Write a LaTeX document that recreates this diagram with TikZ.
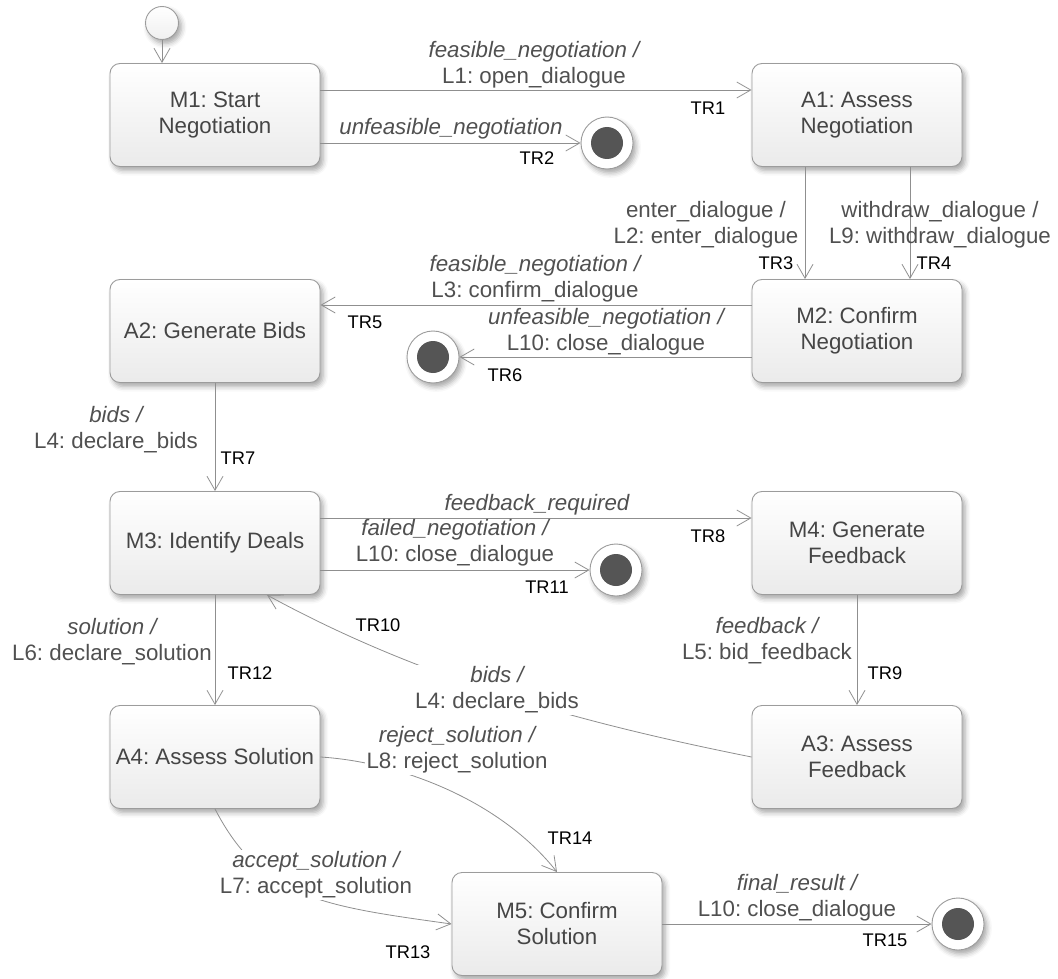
\documentclass[tikz,border=0pt]{standalone}
\usepackage{fontspec}
\setmainfont{Liberation Sans}
\usetikzlibrary{arrows.meta,shadows.blur}
\frenchspacing
\definecolor{linegray}{HTML}{8F8F8F}
\definecolor{boxgray}{HTML}{9C9C9C}
\definecolor{boxtext}{HTML}{454545}
\definecolor{lbltext}{HTML}{505050}
\definecolor{dotgray}{HTML}{555555}
\newcommand{\lblfont}{\fontsize{22.3}{26}\selectfont}
\newcommand{\trfont}{\fontsize{18.3}{20}\selectfont}

\begin{document}
\begin{tikzpicture}[x=1pt,y=-1pt,
  soft shadow/.style={blur shadow={shadow xshift=3pt,shadow yshift=-4pt,shadow opacity=35,shadow blur radius=5pt}},
  state node/.style={rectangle,rounded corners=10pt,draw=boxgray,line width=0.9pt,top color=white,bottom color=black!8,minimum width=210pt,minimum height=103pt,align=center,text=boxtext,font=\lblfont,soft shadow},
  start node/.style={circle,draw=boxgray,line width=0.9pt,top color=white,bottom color=black!6,minimum size=33pt,inner sep=0pt,soft shadow},
  end node/.style={circle,draw=boxgray,line width=0.9pt,fill=white,minimum size=52pt,inner sep=0pt,soft shadow,
    path picture={\fill[dotgray] (path picture bounding box.center) circle (16pt);}},
  trans/.style={draw=linegray,line width=0.8pt,-{Straight Barb[length=14pt,width=16pt]}},
  lbl/.style={text=lbltext,font=\lblfont,align=center,inner sep=0pt},
  on lbl/.style={lbl,fill=white,inner sep=2pt},
  tr/.style={font=\trfont,text=black,inner sep=0pt}]
  \useasboundingbox (0,0) rectangle (1058,979);

  \node[start node] (init) at (162,23) {};
  \node[state node] (m1) at (215,115) {M1: Start\\Negotiation};
  \node[state node] (a1) at (857,115) {A1: Assess\\Negotiation};
  \node[state node] (a2) at (215,331) {A2: Generate Bids};
  \node[state node] (m2) at (857,331) {M2: Confirm\\Negotiation};
  \node[state node] (m3) at (215,543) {M3: Identify Deals};
  \node[state node] (m4) at (857,543) {M4: Generate\\Feedback};
  \node[state node] (a4) at (215,757) {A4: Assess Solution};
  \node[state node] (a3) at (857,757) {A3: Assess\\Feedback};
  \node[state node] (m5) at (557,924) {M5: Confirm\\Solution};
  \node[end node] (e1) at (607,143) {};
  \node[end node] (e2) at (433,357) {};
  \node[end node] (e3) at (616,570) {};
  \node[end node] (e4) at (958,924) {};

  \draw[trans] (init) -- (init |- m1.north);
  \draw[trans] ([yshift=25pt]m1.east) -- ([yshift=25pt]a1.west);
  \draw[trans] (m1.east |- e1) -- (e1);
  \draw[trans] ([xshift=-52pt]a1.south) -- ([xshift=-52pt]m2.north);
  \draw[trans] ([xshift=53pt]a1.south) -- ([xshift=53pt]m2.north);
  \draw[trans] ([yshift=26pt]m2.west) -- ([yshift=26pt]a2.east);
  \draw[trans] (m2.west |- e2) -- (e2);
  \draw[trans] (a2.south) -- (m3.north);
  \draw[trans] ([yshift=25pt]m3.east) -- ([yshift=25pt]m4.west);
  \draw[trans] (m3.east |- e3) -- (e3);
  \draw[trans] (m4.south) -- (a3.north);
  \draw[trans] (m3.south) -- (a4.north);
  \draw[trans] (m5.east) -- (e4);
  \draw[trans] (a3.west) .. controls (592,725) and (428,683) .. (m3.-45);
  \draw[trans] (a4.east) .. controls (400,762) and (500,800) .. (m5.north);
  \draw[trans] (a4.south) .. controls (261,898) and (322,906) .. (m5.west);

  \node[lbl] (l1) at (534,65) {{\itshape feasible\_negotiation /}\\L1: open\_dialogue};
  \node[lbl] (l2) at (451,129) {\itshape unfeasible\_negotiation};
  \node[lbl] (l3) at (706,225) {enter\_dialogue /\\L2: enter\_dialogue};
  \node[lbl] (l4) at (940,225) {withdraw\_dialogue /\\L9: withdraw\_dialogue};
  \node[lbl] (l5) at (535,279) {{\itshape feasible\_negotiation /}\\L3: confirm\_dialogue};
  \node[lbl] (l6) at (606,332) {{\itshape unfeasible\_negotiation /}\\L10: close\_dialogue};
  \node[lbl] (l7) at (116,430) {{\itshape bids /}\\L4: declare\_bids};
  \node[lbl] (l8) at (537,505) {\itshape feedback\_required};
  \node[lbl] (l11) at (455,543) {{\itshape failed\_negotiation /}\\L10: close\_dialogue};
  \node[lbl] (l9) at (767,641) {{\itshape feedback /}\\L5: bid\_feedback};
  \node[on lbl] (l10) at (497,690) {{\itshape bids /}\\L4: declare\_bids};
  \node[lbl] (l12) at (112,642) {{\itshape solution /}\\L6: declare\_solution};
  \node[on lbl] (l14) at (457,750) {{\itshape reject\_solution /}\\L8: reject\_solution};
  \node[on lbl] (l13) at (316,875) {{\itshape accept\_solution /}\\L7: accept\_solution};
  \node[lbl] (l15) at (797,898) {{\itshape final\_result /}\\L10: close\_dialogue};

  \node[tr] (tr1) at (708,108) {TR1};
  \node[tr] (tr2) at (537,158) {TR2};
  \node[tr] (tr3) at (776,263) {TR3};
  \node[tr] (tr4) at (934,263) {TR4};
  \node[tr] (tr5) at (365,322) {TR5};
  \node[tr] (tr6) at (505,375) {TR6};
  \node[tr] (tr7) at (238,458) {TR7};
  \node[tr] (tr8) at (708,536) {TR8};
  \node[tr] (tr9) at (885,673) {TR9};
  \node[tr] (tr10) at (378,625) {TR10};
  \node[tr] (tr11) at (547,587) {TR11};
  \node[tr] (tr12) at (250,673) {TR12};
  \node[tr] (tr13) at (408,952) {TR13};
  \node[tr] (tr14) at (570,838) {TR14};
  \node[tr] (tr15) at (885,940) {TR15};
\end{tikzpicture}
\end{document}
